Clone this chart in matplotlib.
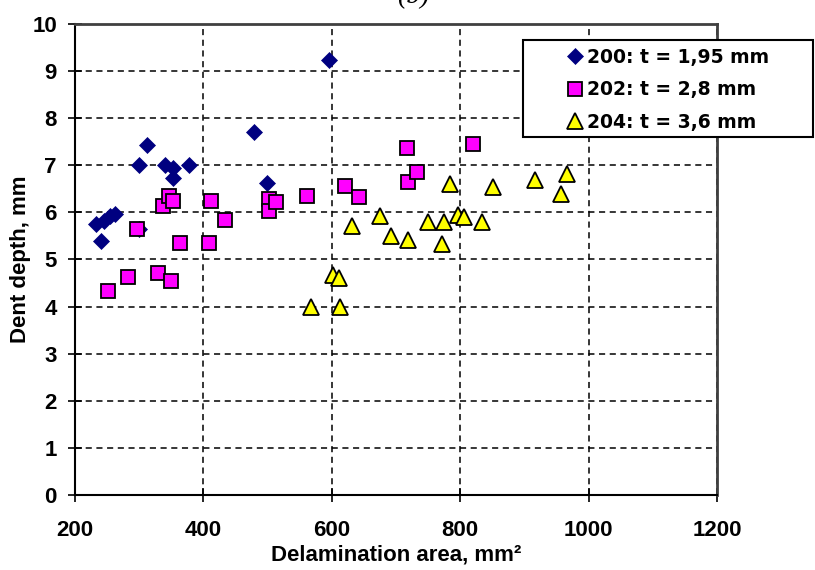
import matplotlib
matplotlib.use("Agg")
import matplotlib.pyplot as plt
from matplotlib.patches import Rectangle

# series 200: t = 1,95 mm
area_200 = [232, 241, 245, 254, 262, 300, 300, 312, 340, 352, 352, 377, 479, 499, 595]
depth_200 = [5.75, 5.40, 5.82, 5.92, 5.96, 5.65, 7.00, 7.43, 7.00, 6.95, 6.74, 7.00, 7.70, 6.63, 9.23]

# series 202: t = 2,8 mm
area_202 = [251, 283, 296, 329, 337, 347, 350, 353, 363, 409, 412, 433,
            502, 502, 513, 562, 621, 642, 717, 719, 733, 819]
depth_202 = [4.32, 4.63, 5.65, 4.72, 6.14, 6.35, 4.54, 6.25, 5.36, 5.36, 6.24, 5.83,
             6.28, 6.03, 6.21, 6.35, 6.55, 6.33, 7.37, 6.64, 6.85, 7.45]

# series 204: t = 3,6 mm
area_204 = [568, 601, 611, 612, 631, 675, 692, 718, 749, 771, 774, 784,
            797, 805, 833, 851, 916, 957, 966]
depth_204 = [4.00, 4.68, 4.61, 4.00, 5.71, 5.92, 5.50, 5.41, 5.80, 5.32, 5.80, 6.60,
             5.94, 5.91, 5.80, 6.53, 6.69, 6.39, 6.81]

labels = ["200: t = 1,95 mm", "202: t = 2,8 mm", "204: t = 3,6 mm"]
x_ticks = [200, 400, 600, 800, 1000, 1200]
y_ticks = list(range(0, 11))

TICK_FONT = {"family": "Liberation Sans", "weight": "bold", "size": 16}

fig = plt.figure(figsize=(8.15, 5.7), dpi=100)
ax = fig.add_axes([0.092, 0.1316, 0.788, 0.8264])

ax.plot(area_200, depth_200, linestyle="none", marker="D", markersize=8.5,
        color="#000080", markeredgecolor="#000080", markeredgewidth=0.5,
        label=labels[0], zorder=3)
ax.plot(area_202, depth_202, linestyle="none", marker="s", markersize=10,
        markerfacecolor="#ff00ff", markeredgecolor="black", markeredgewidth=1.3,
        label=labels[1], zorder=4)
ax.plot(area_204, depth_204, linestyle="none", marker="^", markersize=11,
        markerfacecolor="#ffff00", markeredgecolor="black", markeredgewidth=1.3,
        label=labels[2], zorder=5)

ax.set_xlim(200, 1200)
ax.set_ylim(0, 10)
ax.set_xticks(x_ticks)
ax.set_yticks(y_ticks)
ax.grid(True, color="black", linestyle=(0, (4, 3)), linewidth=1.1)
ax.set_axisbelow(True)

ax.tick_params(direction="inout", length=10, width=1.2, color="black")
ax.tick_params(axis="x", pad=13)
ax.tick_params(axis="y", pad=8)
for lab in ax.get_xticklabels() + ax.get_yticklabels():
    lab.set_fontproperties(TICK_FONT)
    lab.set_fontweight("bold")
    lab.set_fontsize(16)

for side in ["left", "bottom"]:
    ax.spines[side].set_color("black")
    ax.spines[side].set_linewidth(1.5)
for side in ["top", "right"]:
    ax.spines[side].set_color("#404040")
    ax.spines[side].set_linewidth(2)

ax.set_xlabel("Delamination area, mm²", fontdict=TICK_FONT)
ax.set_ylabel("Dent depth, mm", fontdict=TICK_FONT)
ax.xaxis.set_label_coords(0.5, -0.106)
ax.yaxis.set_label_coords(-0.0685, 0.5)

# legend box sits partly outside the plot area, as in the chart it came from
box = Rectangle((523 / 815, 1 - 137 / 570), 290 / 815, 97 / 570,
                transform=fig.transFigure, facecolor="white",
                edgecolor="black", linewidth=1.5, zorder=10)
fig.patches.append(box)
leg = fig.legend(loc="center", bbox_to_anchor=(668 / 815, 1 - 90 / 570),
                 frameon=False, numpoints=1, handlelength=0.8, handletextpad=0.25,
                 labelspacing=0.72, borderpad=0,
                 prop={"family": "DejaVu Sans", "weight": "bold", "size": 13.5})
leg.set_zorder(20)

fig.text(413 / 815, 1 - 9 / 570, "(b)", ha="center", va="bottom",
         family="Liberation Serif", style="italic", fontsize=20)

fig.savefig("out.png", dpi=100)
